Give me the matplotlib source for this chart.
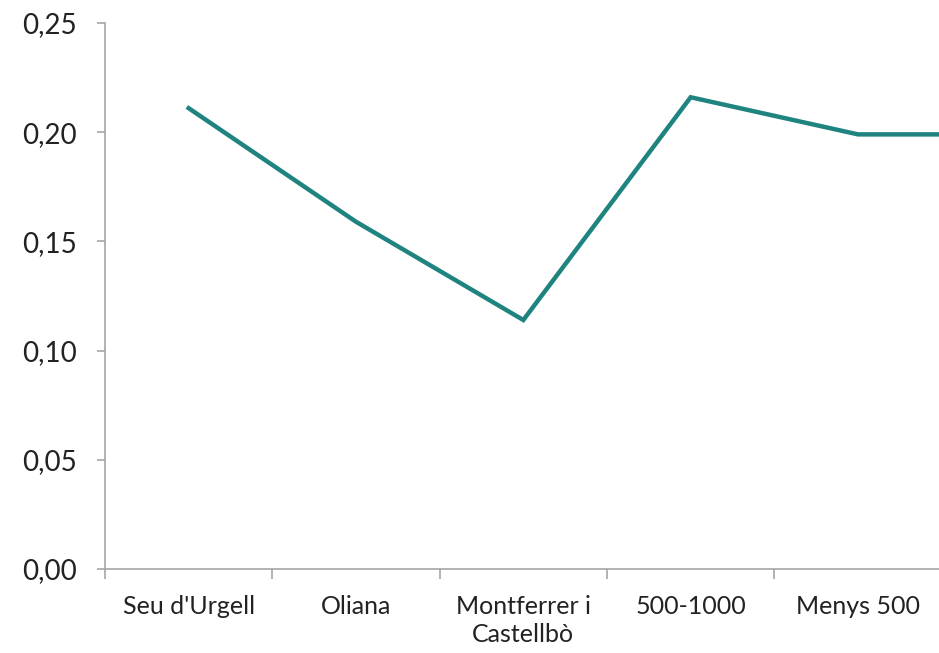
import matplotlib.pyplot as plt
from matplotlib.ticker import FixedLocator, FuncFormatter

# last category is cut off by the right edge of the picture
categories = ["Seu d'Urgell", "Oliana", "Montferrer i\nCastellbò", "500-1000", "Menys 500", ""]
values = [0.211, 0.159, 0.114, 0.216, 0.199, 0.199]
y_ticks = [0.00, 0.05, 0.10, 0.15, 0.20, 0.25]

plt.rcParams['font.family'] = ['Lato', 'DejaVu Sans']

fig = plt.figure(figsize=(9.39, 6.53), dpi=100)
ax = fig.add_axes([105 / 939, 84 / 653, 1004 / 939, 546 / 653])

x = list(range(len(categories)))
ax.plot(x, values, color='#1f847f', linewidth=3.2, solid_joinstyle='miter', clip_on=False)

ax.set_xlim(-0.5, len(categories) - 0.5)
ax.set_ylim(0, 0.25)

ax.set_xticks(x)
ax.set_xticklabels(categories, fontsize=18, color='#222222', linespacing=1.25)
ax.tick_params(axis='x', which='major', length=0, pad=19)
ax.xaxis.set_minor_locator(FixedLocator([i - 0.5 for i in range(len(categories) + 1)]))
ax.tick_params(axis='x', which='minor', length=7, width=1.2, color='#a6a6a6')

ax.set_yticks(y_ticks)
ax.yaxis.set_major_formatter(FuncFormatter(lambda v, p: f"{v:.2f}".replace('.', ',')))
ax.tick_params(axis='y', length=6, width=1.2, color='#a6a6a6', labelsize=20, pad=14, labelcolor='#222222')

for s in ['top', 'right']:
    ax.spines[s].set_visible(False)
for s in ['left', 'bottom']:
    ax.spines[s].set_color('#a6a6a6')
    ax.spines[s].set_linewidth(1.2)

fig.savefig('out.png', dpi=100)
